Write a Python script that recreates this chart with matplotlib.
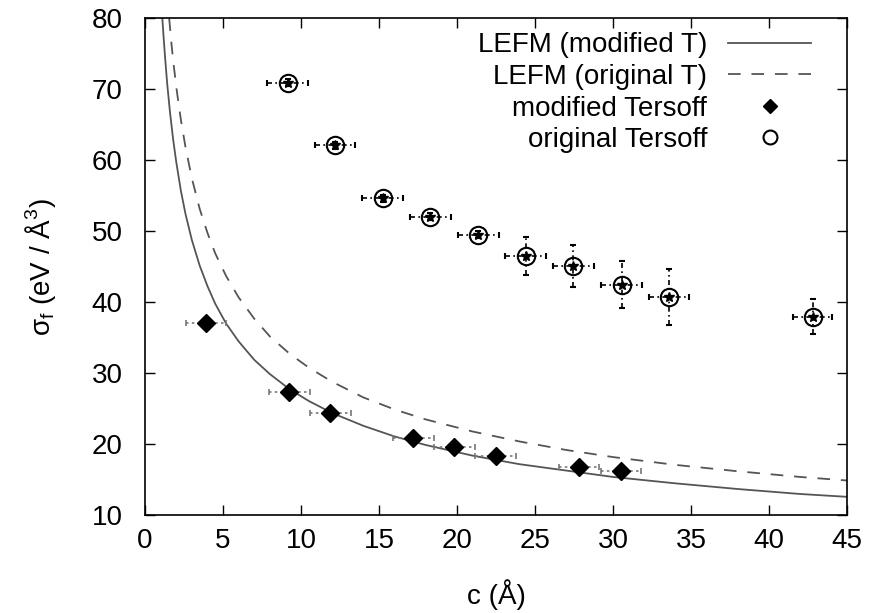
import numpy as np
import matplotlib
matplotlib.use('Agg')
import matplotlib.pyplot as plt

plt.rcParams['font.family'] = ['Liberation Sans', 'DejaVu Sans']
plt.rcParams['mathtext.fontset'] = 'custom'
plt.rcParams['mathtext.rm'] = 'Liberation Sans'

# LEFM curves
c_mod = [1.11, 1.2, 1.3, 1.43, 1.6, 1.8, 2.0, 2.3, 2.6, 3.0, 3.5, 4.0, 4.5, 5.2, 6.0, 7.0, 8.0, 9.3,
         10.5, 12, 14, 16, 18, 21, 24, 27, 30, 34, 38, 42, 45]
s_mod = [80.0, 77.1, 74.1, 70.6, 66.8, 63.0, 59.8, 55.7, 52.4, 48.8, 45.2, 42.3, 39.8, 37.0, 34.5,
         31.9, 29.9, 27.7, 26.1, 24.4, 22.6, 21.1, 19.9, 18.4, 17.2, 16.3, 15.4, 14.5, 13.7, 13.0, 12.6]
c_orig = [1.55, 1.7, 1.85, 2.03, 2.3, 2.6, 3.0, 3.5, 4.0, 4.5, 5.2, 6.0, 7.0, 8.0, 9.3, 10.5, 12, 14,
          16, 18, 21, 24, 27, 30, 34, 38, 42, 45]
s_orig = [80.0, 76.3, 73.2, 69.9, 65.7, 61.8, 57.5, 53.2, 49.8, 46.9, 43.7, 40.7, 37.7, 35.2, 32.7,
          30.8, 28.8, 26.6, 24.9, 23.5, 21.8, 20.4, 19.2, 18.2, 17.1, 16.2, 15.4, 14.9]

# modified Tersoff
mt_c = [3.91, 9.25, 11.88, 17.2, 19.83, 22.48, 27.82, 30.5]
mt_s = [37.05, 27.3, 24.45, 20.9, 19.66, 18.4, 16.85, 16.24]
mt_cerr = [1.3, 1.3, 1.3, 1.3, 1.3, 1.3, 1.3, 1.3]

# original Tersoff
ot_c = [9.15, 12.18, 15.24, 18.3, 21.37, 24.4, 27.46, 30.56, 33.6, 42.8]
ot_s = [70.9, 62.15, 54.65, 52.05, 49.5, 46.5, 45.1, 42.5, 40.8, 38.0]
ot_cerr = [1.3, 1.3, 1.3, 1.3, 1.3, 1.3, 1.3, 1.3, 1.3, 1.25]
ot_serr = [0.5, 0.5, 0.5, 0.5, 0.5, 2.7, 3.0, 3.35, 3.95, 2.45]

fig = plt.figure(figsize=(8.72, 6.13), dpi=100)
ax = fig.add_axes([0.1663, 0.1594, 0.805, 0.8107])

l1, = ax.plot(c_mod, s_mod, color='#555555', lw=1.3, label='LEFM (modified T)')
l2, = ax.plot(c_orig, s_orig, color='#555555', lw=1.3, ls=(0, (7, 6)), label='LEFM (original T)')

eb = ax.errorbar(mt_c, mt_s, xerr=mt_cerr, fmt='none', ecolor='#777777', elinewidth=1.2,
                 capsize=2.5, capthick=1.2)
eb[2][0].set_linestyle((0, (1.5, 2)))
h3, = ax.plot(mt_c, mt_s, 'D', color='black', ms=9, ls='none', label='modified Tersoff')

eb2 = ax.errorbar(ot_c, ot_s, xerr=ot_cerr, yerr=ot_serr, fmt='none', ecolor='black',
                  elinewidth=1.2, capsize=2.5, capthick=1.5)
for lc in eb2[2]:
    lc.set_linestyle((0, (3, 2, 1, 2)))
h4, = ax.plot(ot_c, ot_s, 'o', mfc='none', mec='black', mew=1.5, ms=12.5, ls='none',
              label='original Tersoff')
ax.plot(ot_c, ot_s, '*', color='black', ms=7.5, ls='none')

ax.set_xlim(0, 45)
ax.set_ylim(10, 80)
ax.set_xticks(np.arange(0, 46, 5))
ax.set_yticks(np.arange(10, 81, 10))
ax.tick_params(direction='in', top=True, right=True, length=7, width=1, labelsize=20)
ax.tick_params(axis='x', pad=9)
ax.tick_params(axis='y', pad=16)
for sp in ax.spines.values():
    sp.set_linewidth(1.2)

ax.set_xlabel('c (Å)', fontsize=20, labelpad=18)
ax.set_ylabel('σ$_{\\mathregular{f}}$ (eV / Å$^{\\mathregular{3}}$)', fontsize=20, labelpad=24)

ax.legend(handles=[l1, l2, h3, h4], loc='upper right', bbox_to_anchor=(0.985, 1.022),
          frameon=False, markerfirst=False, alignment='right', fontsize=20,
          handlelength=3.0, labelspacing=0.2, handletextpad=0.75, numpoints=1, markerscale=0.8)

fig.savefig('out.png', dpi=100)
